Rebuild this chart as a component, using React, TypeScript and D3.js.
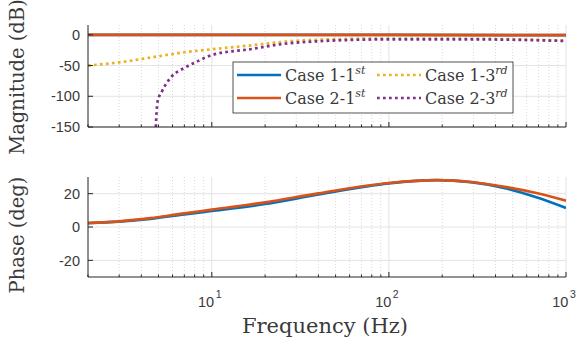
import React from "react";
import * as d3 from "d3";

// ---------- data ----------
const magFreqFirst = [2, 10, 100, 1000];
const magCase1First = [0, 0, 0, -0.6];
const magCase2First = [0, 0, 0, -0.5];

const magFreqCase1Third = [2, 3, 4.6, 7, 10, 16.8, 25, 37, 100, 325, 1000];
const magCase1Third = [-50, -44.8, -36.6, -28.4, -23.5, -17, -11.5, -8.2, -6, -6.5, -9.5];

const magFreqCase2Third = [4.83, 4.93, 5.24, 5.9, 7, 8.4, 10, 16.8, 25, 37, 100, 325, 1000];
const magCase2Third = [-150, -110, -91.6, -68.7, -53.9, -42.4, -33, -23, -15, -11, -7.4, -7.5, -10];

const phaseFreq = [2, 3, 4.5, 7, 10, 20, 40, 100, 186, 290, 440, 680, 1000];
const phaseCase1 = [2.3, 3.2, 4.9, 7.6, 9.6, 13.8, 19.5, 26.2, 28.1, 26.9, 23.6, 17.8, 11.4];
const phaseCase2 = [2.4, 3.4, 5.3, 8.2, 10.4, 14.8, 20.2, 26.4, 28.1, 27.0, 24.3, 20.4, 15.8];

const magTicks = [0, -50, -100, -150];
const phaseTicks = [-20, 0, 20];
const decadeTicks = [10, 100, 1000];
const decadeExponents = ["1", "2", "3"];

const seriesNames = ["Case 1-1", "Case 2-1", "Case 1-3", "Case 2-3"];
const seriesSups = ["st", "st", "rd", "rd"];

// ---------- styles ----------
const W = 577;
const H = 345;
const left = 88;
const right = 566;
const magTop = 25;
const magBottom = 127;
const phTop = 177;
const phBottom = 277;

const BLUE = "#0072BD";
const ORANGE = "#D95319";
const YELLOW = "#EDB120";
const PURPLE = "#7E2F8E";
const AXIS = "#262626";
const TXT = "#3a3a3a";
const GRID = "#e3e3e3";
const MINOR = "#cfcfcf";

const x = d3.scaleLog().domain([2, 1000]).range([left, right]);
const yMag = d3.scaleLinear().domain([-150, 16]).range([magBottom, magTop]);
const yPh = d3.scaleLinear().domain([-30, 30]).range([phBottom, phTop]);

const minorTicks: number[] = [];
[1, 10, 100].forEach((d) => {
  for (let k = 2; k <= 9; k++) {
    const v = d * k;
    if (v >= 2 && v < 1000) minorTicks.push(v);
  }
});

function makeLine(y: d3.ScaleLinear<number, number>) {
  return d3
    .line<[number, number]>()
    .x((d) => x(d[0]))
    .y((d) => y(d[1]))
    .curve(d3.curveMonotoneX);
}

const zip = (a: number[], b: number[]) => a.map((v, i) => [v, b[i]] as [number, number]);

function Grid({ yScale, ticks, top, bottom }: any) {
  return (
    <g>
      {minorTicks.map((t) => (
        <line key={"m" + t} x1={x(t)} x2={x(t)} y1={top} y2={bottom} stroke={MINOR} strokeWidth={0.8} strokeDasharray="1,2" />
      ))}
      {decadeTicks.map((t) => (
        <line key={"d" + t} x1={x(t)} x2={x(t)} y1={top} y2={bottom} stroke={GRID} strokeWidth={1} />
      ))}
      {ticks.map((t: number) => (
        <line key={"h" + t} x1={left} x2={right} y1={yScale(t)} y2={yScale(t)} stroke={GRID} strokeWidth={1} />
      ))}
    </g>
  );
}

function Axes({ yScale, ticks, top, bottom }: any) {
  return (
    <g>
      <line x1={left} x2={left} y1={top} y2={bottom} stroke={AXIS} strokeWidth={1} />
      <line x1={left} x2={right} y1={bottom} y2={bottom} stroke={AXIS} strokeWidth={1} />
      {ticks.map((t: number) => (
        <g key={"yt" + t}>
          <line x1={left} x2={left + 5} y1={yScale(t)} y2={yScale(t)} stroke={AXIS} strokeWidth={1} />
          <text x={80} y={yScale(t)} dy="0.36em" textAnchor="end" fontFamily="Liberation Sans, Arial, sans-serif" fontSize={14.5} fill={TXT}>
            {t}
          </text>
        </g>
      ))}
      {decadeTicks.map((t) => (
        <line key={"xt" + t} x1={x(t)} x2={x(t)} y1={bottom} y2={bottom - 5} stroke={AXIS} strokeWidth={1} />
      ))}
      {minorTicks.map((t) => (
        <line key={"xm" + t} x1={x(t)} x2={x(t)} y1={bottom} y2={bottom - 2.5} stroke={AXIS} strokeWidth={1} />
      ))}
    </g>
  );
}

export default function App() {
  const magLine = makeLine(yMag);
  const phLine = makeLine(yPh);
  const serif = "DejaVu Serif, Liberation Serif, serif";
  const legendRows = [
    { name: 0, color: BLUE, dotted: false, x0: 237, y: 75 },
    { name: 1, color: ORANGE, dotted: false, x0: 237, y: 98 },
    { name: 2, color: YELLOW, dotted: true, x0: 377, y: 75 },
    { name: 3, color: PURPLE, dotted: true, x0: 377, y: 98 },
  ];
  return (
    <svg width={W} height={H} style={{ position: "absolute", left: 0, top: 0, background: "#fff" }} xmlns="http://www.w3.org/2000/svg">
      <defs>
        <clipPath id="clipMag">
          <rect x={left} y={magTop} width={right - left} height={magBottom - magTop} />
        </clipPath>
        <clipPath id="clipPh">
          <rect x={left} y={phTop} width={right - left} height={phBottom - phTop} />
        </clipPath>
      </defs>
      <rect x={0} y={0} width={W} height={H} fill="#fff" />

      {/* Magnitude */}
      <Grid yScale={yMag} ticks={magTicks} top={magTop} bottom={magBottom} />
      <g clipPath="url(#clipMag)" fill="none">
        <path d={magLine(zip(magFreqFirst, magCase1First)) || ""} stroke={BLUE} strokeWidth={2.7} />
        <path d={magLine(zip(magFreqFirst, magCase2First)) || ""} stroke={ORANGE} strokeWidth={2.7} />
        <path d={magLine(zip(magFreqCase1Third, magCase1Third)) || ""} stroke={YELLOW} strokeWidth={2.7} strokeDasharray="2.7,3.3" />
        <path d={magLine(zip(magFreqCase2Third, magCase2Third)) || ""} stroke={PURPLE} strokeWidth={2.7} strokeDasharray="2.7,3.3" />
      </g>
      <Axes yScale={yMag} ticks={magTicks} top={magTop} bottom={magBottom} />

      {/* Legend */}
      <rect x={233} y={62} width={280} height={51} fill="#fff" stroke={AXIS} strokeWidth={0.8} />
      {legendRows.map((r) => (
        <g key={r.name}>
          <line x1={r.x0} x2={r.x0 + 44} y1={r.y} y2={r.y} stroke={r.color} strokeWidth={2.7} strokeDasharray={r.dotted ? "2.7,3.3" : undefined} />
          <text x={r.x0 + 48} y={r.y + 6} fontFamily={serif} fontSize={16} fill={TXT}>
            {seriesNames[r.name]}
            <tspan dy={-7} fontSize={11} fontStyle="italic">
              {seriesSups[r.name]}
            </tspan>
          </text>
        </g>
      ))}

      {/* Phase */}
      <Grid yScale={yPh} ticks={phaseTicks} top={phTop} bottom={phBottom} />
      <g clipPath="url(#clipPh)" fill="none">
        <path d={phLine(zip(phaseFreq, phaseCase1)) || ""} stroke={BLUE} strokeWidth={2.7} />
        <path d={phLine(zip(phaseFreq, phaseCase2)) || ""} stroke={ORANGE} strokeWidth={2.7} />
      </g>
      <Axes yScale={yPh} ticks={phaseTicks} top={phTop} bottom={phBottom} />

      {/* x tick labels */}
      {decadeTicks.map((t, i) => (
        <text key={"xl" + t} x={x(t) - 2} y={306.7} textAnchor="middle" fontFamily="Liberation Sans, Arial, sans-serif" fontSize={14.5} fill={TXT}>
          10
          <tspan dy={-9} dx={1.5} fontSize={10.5}>
            {decadeExponents[i]}
          </tspan>
        </text>
      ))}

      {/* axis labels */}
      <text x={325} y={333} textAnchor="middle" fontFamily={serif} fontSize={21} fill={TXT}>
        Frequency (Hz)
      </text>
      <text transform={`translate(24,${(magTop + magBottom) / 2 + 1}) rotate(-90)`} textAnchor="middle" fontFamily={serif} fontSize={19.5} fill={TXT}>
        Magnitude (dB)
      </text>
      <text transform={`translate(24,235) rotate(-90)`} textAnchor="middle" fontFamily={serif} fontSize={19.5} fill={TXT}>
        Phase (deg)
      </text>
    </svg>
  );
}
